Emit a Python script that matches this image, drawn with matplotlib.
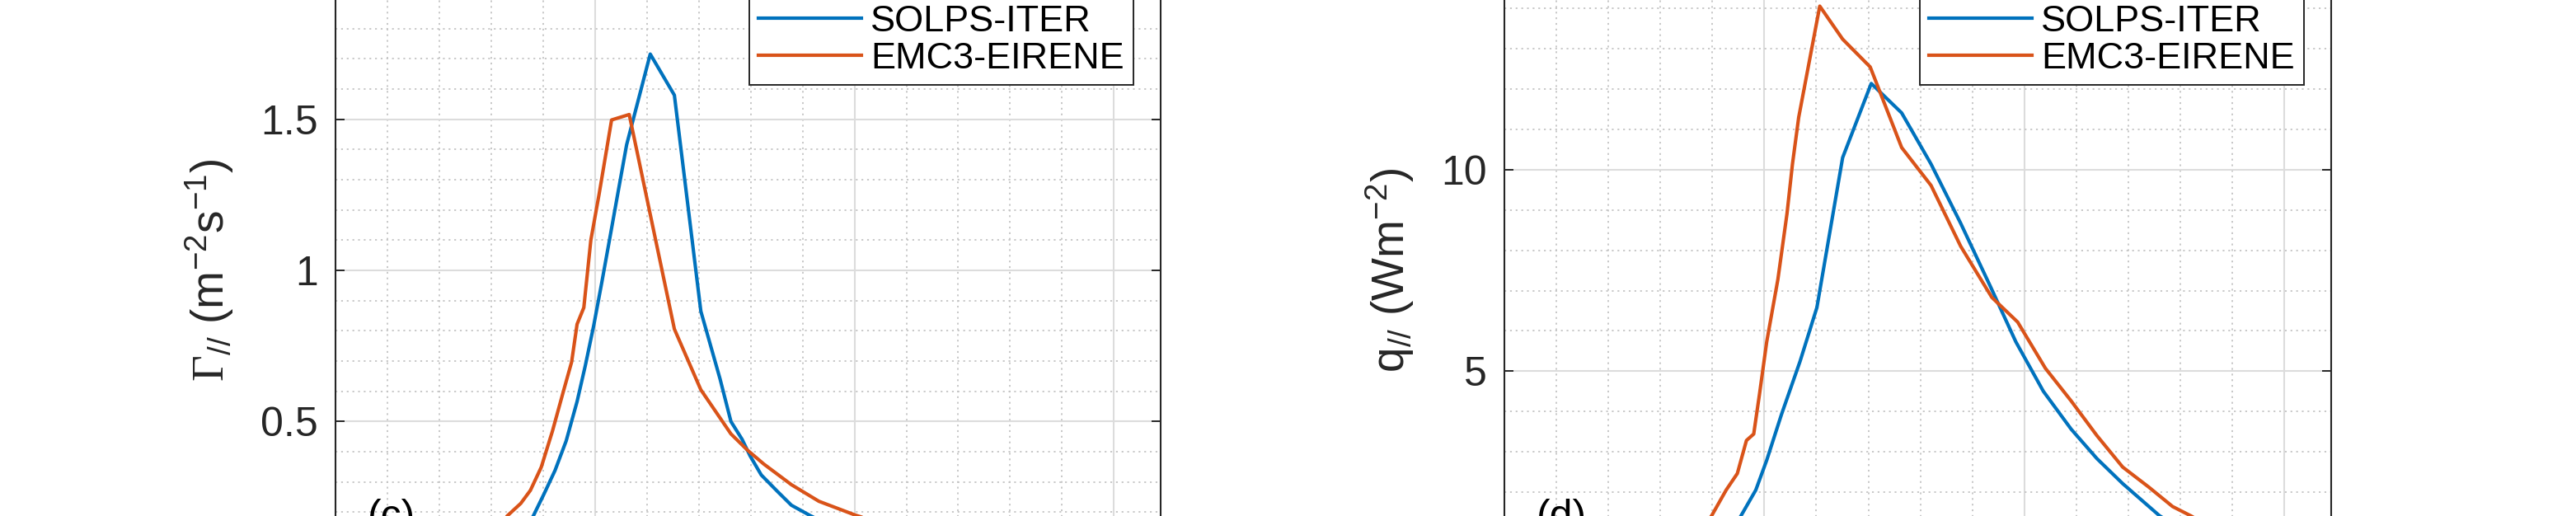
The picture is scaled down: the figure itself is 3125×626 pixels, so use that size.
import matplotlib
matplotlib.use("Agg")
import matplotlib.pyplot as plt
from matplotlib.ticker import MultipleLocator, FuncFormatter

plt.rcParams['font.family'] = ['Liberation Sans', 'DejaVu Sans']
plt.rcParams['mathtext.fontset'] = 'custom'
plt.rcParams['mathtext.rm'] = 'Liberation Sans'
plt.rcParams['mathtext.it'] = 'Liberation Sans:italic'
plt.rcParams['mathtext.bf'] = 'Liberation Sans:bold'
plt.rcParams['mathtext.cal'] = 'Liberation Serif'

# ---------------- data ----------------
series_names = ["SOLPS-ITER", "EMC3-EIRENE"]

# panel (c): particle flux
solps_gamma_x = [0.60, 0.70, 0.762, 0.804, 0.846, 0.889, 0.931, 0.963, 0.995, 1.026, 1.058,
                 1.090, 1.122, 1.213, 1.306, 1.408, 1.482, 1.524, 1.567, 1.598, 1.641,
                 1.704, 1.757, 1.831, 1.92, 2.05]
solps_gamma_y = [0.05, 0.11, 0.187, 0.261, 0.338, 0.436, 0.566, 0.686, 0.817, 0.959, 1.111,
                 1.264, 1.416, 1.716, 1.58, 0.865, 0.641, 0.50, 0.441, 0.386, 0.323,
                 0.268, 0.223, 0.188, 0.15, 0.11]
emc3_gamma_x = [0.55, 0.62, 0.661, 0.714, 0.751, 0.793, 0.836, 0.878, 0.910, 0.931, 0.957,
                0.984, 1.016, 1.064, 1.132, 1.306, 1.408, 1.524, 1.588, 1.651, 1.757,
                1.863, 2.001, 2.15, 2.30]
emc3_gamma_y = [0.06, 0.12, 0.187, 0.229, 0.272, 0.349, 0.468, 0.599, 0.697, 0.822, 0.877,
                1.10, 1.253, 1.498, 1.516, 0.806, 0.605, 0.459, 0.405, 0.359, 0.291,
                0.236, 0.191, 0.15, 0.12]

# panel (d): heat flux
solps_q_x = [0.75, 0.85, 0.910, 0.967, 1.009, 1.066, 1.137, 1.202, 1.301, 1.411, 1.528,
             1.641, 1.755, 1.868, 1.967, 2.073, 2.180, 2.279, 2.378, 2.520, 2.65]
solps_q_y = [0.4, 0.8, 1.41, 2.05, 2.79, 3.93, 5.24, 6.58, 10.30, 12.14, 11.41,
             10.14, 8.67, 7.12, 5.73, 4.50, 3.56, 2.83, 2.21, 1.41, 0.9]
emc3_q_x = [0.65, 0.72, 0.797, 0.853, 0.896, 0.931, 0.959, 0.981, 1.009, 1.052, 1.087,
            1.108, 1.132, 1.213, 1.301, 1.407, 1.528, 1.641, 1.755, 1.875, 1.974,
            2.081, 2.180, 2.279, 2.378, 2.477, 2.570, 2.640, 2.75]
emc3_q_y = [0.4, 0.8, 1.41, 2.05, 2.46, 3.28, 3.44, 4.42, 5.73, 7.28, 8.91,
            10.14, 11.30, 14.06, 13.24, 12.55, 10.55, 9.61, 8.10, 6.83, 6.22,
            5.07, 4.26, 3.40, 2.62, 2.13, 1.64, 1.41, 1.0]

panel_labels = ["(c)", "(d)"]
ylabels = [r'$\mathcal{\Gamma}_{//}$ (m$^{-2}$s$^{-1}$)', r'q$_{//}$ (Wm$^{-2}$)']
ylims = [(0, 2), (0, 15)]
y_major = [0.5, 5]
y_minor = [0.1, 1]
xlim = (0, 3.18)

# ---------------- style ----------------
C_BLUE = '#0072BD'
C_ORANGE = '#D95319'
AX_COLOR = '#262626'
FS_TICK = 36
FS_LEG = 32.4
FS_LAB = 39.6

fig = plt.figure(figsize=(31.25, 6.26), dpi=100)
bottom = -0.1097
height = 1.1712
axes = [fig.add_axes([0.13024, bottom, 0.32032, height]),
        fig.add_axes([0.58400, bottom, 0.32096, height])]

data = [((solps_gamma_x, solps_gamma_y), (emc3_gamma_x, emc3_gamma_y)),
        ((solps_q_x, solps_q_y), (emc3_q_x, emc3_q_y))]
label_x = [-0.153, -0.138]


def make_fmt(lo, hi):
    # tick labels at the axis ends fall outside the cropped picture
    def fmt(v, p):
        if abs(v - lo) < 1e-9 or abs(v - hi) < 1e-9:
            return ''
        return '%g' % v
    return FuncFormatter(fmt)


for i, ax in enumerate(axes):
    (sx, sy), (ex, ey) = data[i]
    ax.plot(sx, sy, color=C_BLUE, lw=3.0, label=series_names[0], zorder=3)
    ax.plot(ex, ey, color=C_ORANGE, lw=3.0, label=series_names[1], zorder=3)
    ax.set_xlim(*xlim)
    ax.set_ylim(*ylims[i])
    ax.xaxis.set_major_locator(MultipleLocator(1))
    ax.xaxis.set_minor_locator(MultipleLocator(0.2))
    ax.yaxis.set_major_locator(MultipleLocator(y_major[i]))
    ax.yaxis.set_minor_locator(MultipleLocator(y_minor[i]))
    ax.yaxis.set_major_formatter(make_fmt(*ylims[i]))
    ax.grid(which='major', color='#DCDCDC', lw=1.5, ls='-', zorder=0)
    ax.grid(which='minor', color='#C4C4C4', lw=1.3, ls=(0, (1.2, 2.6)), zorder=0)
    ax.set_axisbelow(True)
    ax.tick_params(which='major', direction='in', length=8, width=1.4,
                   colors=AX_COLOR, labelsize=FS_TICK, top=True, right=True, pad=15,
                   labelbottom=False)
    ax.tick_params(which='minor', length=0)
    for sp in ax.spines.values():
        sp.set_color(AX_COLOR)
        sp.set_linewidth(1.5)
    ax.set_ylabel(ylabels[i], fontsize=FS_LAB, color=AX_COLOR, va='center')
    ax.yaxis.set_label_coords(label_x[i], 0.5)
    ax.text(0.039, 0.0732, panel_labels[i], transform=ax.transAxes,
            fontsize=FS_TICK, color='black', va='baseline', ha='left')
    leg = ax.legend(loc='upper right', fontsize=FS_LEG, frameon=True, fancybox=False,
                    handlelength=2.78, handletextpad=0.24, borderpad=0.25,
                    labelspacing=0.1, borderaxespad=0.73)
    leg.get_frame().set_edgecolor(AX_COLOR)
    leg.get_frame().set_linewidth(1.4)
    leg.get_frame().set_alpha(1)

fig.savefig('out.png', dpi=100, facecolor='white')
